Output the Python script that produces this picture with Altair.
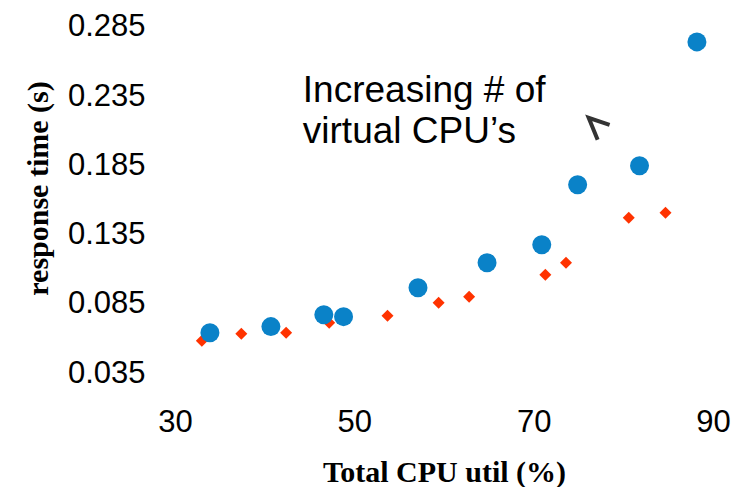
import altair as alt
import pandas as pd

# Blue circles (series A)
blue_x = [33.9, 40.7, 46.6, 48.8, 57.1, 64.8, 70.9, 74.9, 81.8, 88.2]
blue_y = [0.0642, 0.0686, 0.0772, 0.0758, 0.0967, 0.1147, 0.1277, 0.1710, 0.1847, 0.2742]

# Red diamonds (series B)
red_x = [33.0, 37.4, 42.4, 47.2, 53.7, 59.4, 62.8, 71.3, 73.6, 80.6, 84.7]
red_y = [0.0584, 0.0635, 0.0642, 0.0714, 0.0765, 0.0859, 0.0902, 0.1061, 0.1147, 0.1472, 0.1508]

x_ticks = [30, 50, 70, 90]
y_ticks = [0.035, 0.085, 0.135, 0.185, 0.235, 0.285]

note_lines = ["Increasing # of", "virtual CPU\u2019s"]
note_pos = {"x": 44.26, "y": 0.2309}
arrow_pos = {"x": 77.13, "y": 0.2129}

blue_df = pd.DataFrame({"cpu": blue_x, "rt": blue_y})
red_df = pd.DataFrame({"cpu": red_x, "rt": red_y})
note_df = pd.DataFrame({"cpu": [note_pos["x"]], "rt": [note_pos["y"]], "label": [note_lines]})
arrow_df = pd.DataFrame({"cpu": [arrow_pos["x"]], "rt": [arrow_pos["y"]]})

xscale = alt.Scale(domain=[28, 92], nice=False, zero=False)
yscale = alt.Scale(domain=[0.025, 0.29], nice=False, zero=False)

xenc = alt.X("cpu:Q", scale=xscale, title="Total CPU util (%)",
             axis=alt.Axis(values=x_ticks, format="d", domain=False, ticks=False, grid=False,
                           labelFont="Liberation Sans", labelFontSize=31, labelColor="#000",
                           labelPadding=20,
                           titleFont="Liberation Serif", titleFontSize=30, titleFontWeight="bold",
                           titleColor="#000", titleBaseline="middle", titleY=85))
yenc = alt.Y("rt:Q", scale=yscale, title="response time (s)",
             axis=alt.Axis(values=y_ticks, format=".3f", domain=False, ticks=False, grid=False,
                           labelFont="Liberation Sans", labelFontSize=31, labelColor="#000",
                           labelPadding=12,
                           titleFont="Liberation Serif", titleFontSize=30, titleFontWeight="bold",
                           titleColor="#000", titleBaseline="middle", titleX=-119, titleY=168))

red = alt.Chart(red_df).mark_point(shape="diamond", filled=True, size=144, color="#FF3300", opacity=1).encode(x=xenc, y=yenc)
blue = alt.Chart(blue_df).mark_point(shape="circle", filled=True, size=361, color="#0A82C8", opacity=1).encode(x="cpu:Q", y="rt:Q")
note = alt.Chart(note_df).mark_text(align="left", baseline="alphabetic", font="Liberation Sans",
                                    fontSize=37, lineHeight=41, color="#000").encode(
    x="cpu:Q", y="rt:Q", text="label")
arrow = alt.Chart(arrow_df).mark_point(shape="M0.92,-0.15L-0.69,-0.69L0,1", filled=False, size=676,
                                       stroke="#333333", strokeWidth=4, opacity=1).encode(x="cpu:Q", y="rt:Q")

chart = alt.layer(red, blue, note, arrow).properties(
    width=574, height=367,
    autosize=alt.AutoSizeParams(type="none"),
    padding={"left": 149, "top": 12, "right": 5, "bottom": 100},
).configure_view(stroke=None)

chart.save("out.html", embed_options={"renderer": "svg", "actions": False})
